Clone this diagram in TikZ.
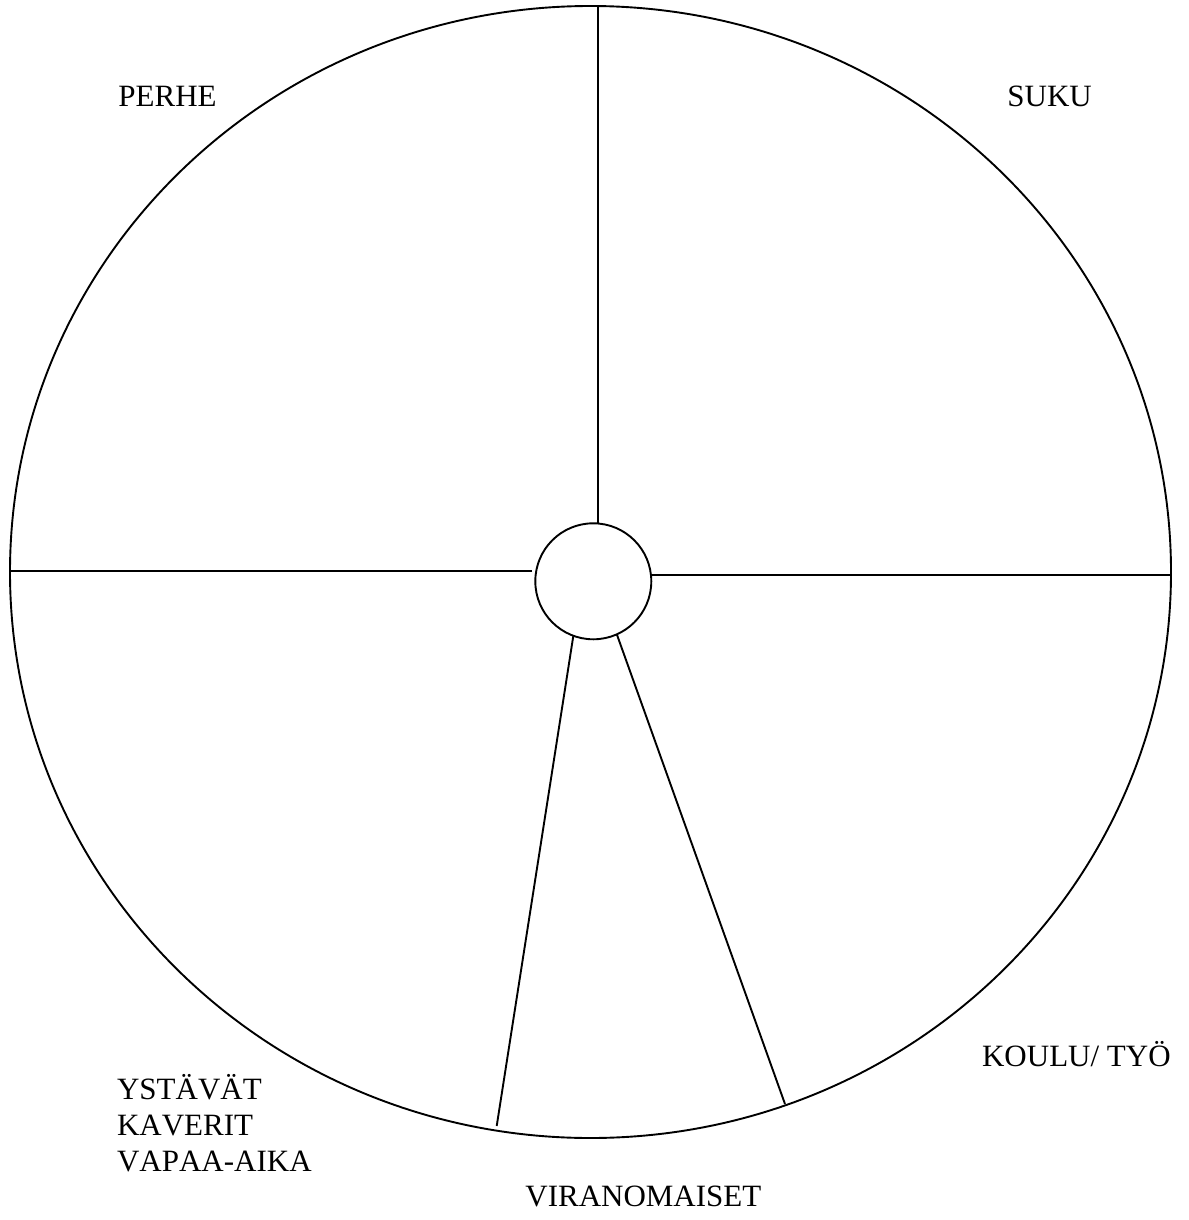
\documentclass[tikz,border=0pt]{standalone}
\usepackage{fontspec}
\setmainfont{Liberation Serif}[Kerning=Off]
\usetikzlibrary{shapes.geometric}
\tikzset{
  rim/.style={draw, line width=0.95pt, inner sep=0pt, outer sep=0pt},
  spoke/.style={line width=0.95pt},
  lbl/.style={font=\fontsize{15.5}{18}\selectfont, inner sep=0pt, anchor=base west},
}

\begin{document}
\begin{tikzpicture}[x=0.5pt,y=-0.5pt]
\useasboundingbox (0,0) rectangle (1188,1220);

% wheel and hub
\node[rim, ellipse, minimum width=580.5pt, minimum height=566pt] (outer) at (590.5,572) {};
\node[rim, circle, minimum size=58pt] (hub) at (593.3,581.3) {};

% spoke ends
\coordinate (n1) at (597.7,523);   \coordinate (n2) at (597.7,5.5);
\coordinate (w1) at (532,570.7);   \coordinate (w2) at (11,570.7);
\coordinate (e1) at (651.7,575);   \coordinate (e2) at (1171,575);
\coordinate (s1) at (573.3,636);   \coordinate (s2) at (496.7,1126);
\coordinate (s3) at (616.7,634);   \coordinate (s4) at (785,1104);
\foreach \a/\b in {n1/n2,w1/w2,e1/e2,s1/s2,s3/s4}
  \draw[spoke] (\a) -- (\b);

% sector labels
\node[lbl] (perhe) at (118,106.7) {PERHE};
\node[lbl] (suku) at (1007,106.7) {SUKU};
\node[lbl] (koulu) at (981.7,1066.7) {KOULU/ TYÖ};
\node[lbl] (ystavat) at (116.7,1099.3) {YSTÄVÄT};
\node[lbl] (kaverit) at (116.7,1135) {KAVERIT};
\node[lbl] (vapaa) at (116.7,1171) {VAPAA-AIKA};
\node[lbl] (viran) at (525,1206.7) {VIRANOMAISET};
\end{tikzpicture}
\end{document}
